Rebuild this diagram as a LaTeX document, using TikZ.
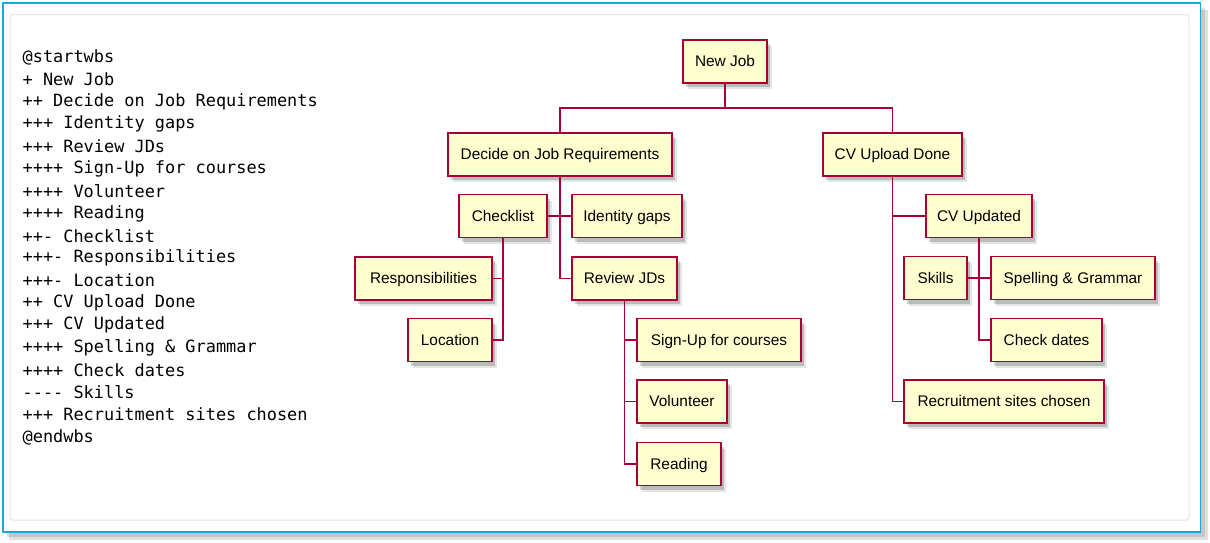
\documentclass[tikz,border=0pt]{standalone}
\usepackage{fontspec}
\setmainfont{Liberation Sans}
\newfontfamily\codefont{DejaVu Sans Mono}
\usetikzlibrary{positioning}
\definecolor{wbsline}{HTML}{A80036}
\definecolor{wbsfill}{HTML}{FEFECE}
\definecolor{frameblue}{HTML}{1AA7E0}
\definecolor{innergray}{HTML}{E4E6EA}
\tikzset{
  wbs/.style={draw=wbsline, fill=wbsfill, line width=1.5pt, rectangle,
    minimum height=43pt, inner sep=0pt, text height=11pt, text depth=0.5pt,
    font=\fontsize{15.4}{18}\selectfont,
    preaction={fill=black, opacity=0.18, transform canvas={shift={(3pt,-4pt)}}},
    preaction={fill=black, opacity=0.10, transform canvas={shift={(5pt,-6pt)}}}},
  conn/.style={draw=wbsline, line width=1.5pt},
  codeline/.style={anchor=west, inner sep=0pt, font=\codefont\fontsize{16.9}{20}\selectfont}
}
\begin{document}
\begin{tikzpicture}[x=1pt,y=-1pt]
\useasboundingbox (0,0) rectangle (1210,542);
% outer frame with shadow
\fill[black, opacity=0.12] (9,10) rectangle (1208,540);
\fill[black, opacity=0.12] (7,8) rectangle (1205,537);
\draw[frameblue, fill=white, line width=1.3pt] (3,3) rectangle (1200.5,532);
\draw[innergray, fill=white, line width=1pt, rounded corners=3pt] (10,14.5) rectangle (1189,520);

% code text
\foreach \t [count=\i from 0] in {%
  @startwbs,
  + New Job,
  ++ Decide on Job Requirements,
  +++ Identity gaps,
  +++ Review JDs,
  ++++ Sign-Up for courses,
  ++++ Volunteer,
  ++++ Reading,
  ++- Checklist,
  +++- Responsibilities,
  +++- Location,
  ++ CV Upload Done,
  +++ CV Updated,
  ++++ Spelling \& Grammar,
  ++++ Check dates,
  ---- Skills,
  +++ Recruitment sites chosen,
  @endwbs}
  \node[codeline] (code\i) at (22.5, 57.3+22.33*\i) {\t};

% nodes
\node[wbs, minimum width=84pt]  (newjob)     at (725,61.5)   {New Job};
\node[wbs, minimum width=224pt] (decide)     at (560,154.5)  {Decide on Job Requirements};
\node[wbs, minimum width=88pt]  (checklist)  at (503,216)    {Checklist};
\node[wbs, minimum width=110pt] (identity)   at (627,216)    {Identity gaps};
\node[wbs, minimum width=137pt] (resp)       at (423.5,278.5){Responsibilities};
\node[wbs, minimum width=84pt]  (location)   at (450,340)    {Location};
\node[wbs, minimum width=105pt] (review)     at (624.5,278.5){Review JDs};
\node[wbs, minimum width=164pt] (signup)     at (719,340)    {Sign-Up for courses};
\node[wbs, minimum width=90pt]  (volunteer)  at (682,401.5)  {Volunteer};
\node[wbs, minimum width=84pt]  (reading)    at (679,464)    {Reading};
\node[wbs, minimum width=139pt] (cvupload)   at (892.5,154.5){CV Upload Done};
\node[wbs, minimum width=106pt] (cvupdated)  at (979,216)    {CV Updated};
\node[wbs, minimum width=63pt]  (skills)     at (935.5,278)  {Skills};
\node[wbs, minimum width=164pt] (spelling)   at (1073,278)   {Spelling \& Grammar};
\node[wbs, minimum width=111pt] (checkdates) at (1046.5,340) {Check dates};
\node[wbs, minimum width=200pt] (recruit)    at (1004,401.5) {Recruitment sites chosen};

% connectors
\coordinate (jbar) at (725,108);
\draw[conn] (newjob.south) -- (jbar);
\draw[conn] (decide.north) |- (jbar) -| (cvupload.north);

\draw[conn] (decide.south) |- (review.west);
\draw[conn] (checklist.east) -- (identity.west);

\draw[conn] (checklist.south) |- (location.east);
\draw[conn] (resp.east) -- (checklist.south |- resp.east);

\draw[conn] (review.south) |- (reading.west);
\draw[conn] (review.south |- signup.west) -- (signup.west);
\draw[conn] (review.south |- volunteer.west) -- (volunteer.west);

\draw[conn] (cvupload.south) |- (recruit.west);
\draw[conn] (cvupload.south |- cvupdated.west) -- (cvupdated.west);

\draw[conn] (cvupdated.south) |- (checkdates.west);
\draw[conn] (skills.east) -- (spelling.west);
\end{tikzpicture}
\end{document}
